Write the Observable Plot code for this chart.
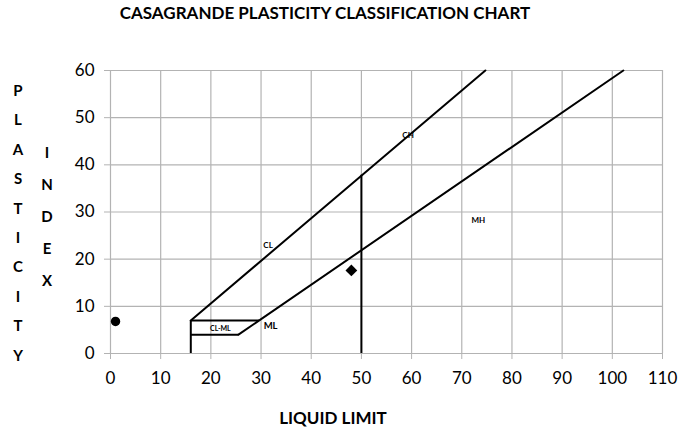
<!DOCTYPE html>
<html><head><meta charset="utf-8">
<script src="https://cdn.jsdelivr.net/npm/d3@7"></script>
<script src="https://cdn.jsdelivr.net/npm/@observablehq/plot@0.6"></script>
<style>
body{margin:0;background:#fff;font-family:Lato,"Open Sans",sans-serif;}
#wrap{position:relative;width:696px;height:432px;}
.t{position:absolute;font-weight:bold;color:#000;font-family:Lato,"Open Sans",sans-serif;line-height:20px;}
.stack{position:absolute;font-weight:bold;font-size:15px;width:18px;}
.stack span{position:absolute;left:0;width:18px;text-align:center;line-height:18px;}
</style></head>
<body><div id="wrap"></div>
<script>
const xTicks = [0,10,20,30,40,50,60,70,80,90,100,110];
const yTicks = [0,10,20,30,40,50,60];
// U-line
const uLineLL = [16, 74.7];
const uLinePI = [7, 60];
// A-line
const aLineLL = [25.5, 102.2];
const aLinePI = [4, 60];
// CL-ML box horizontals
const hLineLL0 = [16, 16];
const hLineLL1 = [29.6, 25.5];
const hLinePI = [7, 4];
// verticals
const vLineLL = [16, 50];
const vLinePItop = [7, 37.8];
// soil samples
const sampleLL = [1, 48];
const samplePI = [6.8, 17.6];
const sampleSymbol = ["circle", "diamond2"];
const sampleR = [4.7, 5.3];
// zone labels
const zoneNames = ["CH", "CL", "MH", "CL-ML", "ML"];
const zoneLL = [59.3, 31.4, 73.3, 21.9, 31.9];
const zonePI = [46.2, 23, 28.3, 5.3, 5.8];
const zoneSize = [8, 8, 8, 7, 9.5];

const pairs = (xs, ys) => xs.map((x, i) => ({x, y: ys[i]}));
const samples = sampleLL.map((x, i) => ({x, y: samplePI[i], s: sampleSymbol[i], r: sampleR[i]}));
const zones = zoneNames.map((n, i) => ({n, x: zoneLL[i], y: zonePI[i], f: zoneSize[i]}));
const hLines = hLinePI.map((y, i) => ({x1: hLineLL0[i], x2: hLineLL1[i], y}));
const vLines = vLineLL.map((x, i) => ({x, y1: 0, y2: vLinePItop[i]}));

const grid = "#b3b3b3";
const chart = Plot.plot({
  width: 696, height: 432,
  marginLeft: 110, marginRight: 34, marginTop: 70, marginBottom: 79,
  style: {fontFamily: "Lato, 'Open Sans', sans-serif", background: "#fff"},
  x: {domain: [0, 110]},
  y: {domain: [0, 60]},
  r: {type: "identity"},
  marks: [
    Plot.ruleX(xTicks, {stroke: grid, strokeWidth: 1.2}),
    Plot.ruleY(yTicks, {stroke: grid, strokeWidth: 1.2}),
    Plot.axisX({ticks: xTicks, tickSize: 6, tickPadding: 12, stroke: grid, fill: "#000", fontSize: 17, label: null}),
    Plot.axisY({ticks: yTicks, tickSize: 6, tickPadding: 10, stroke: grid, fill: "#000", fontSize: 17, label: null}),
    Plot.line(pairs(uLineLL, uLinePI), {x: "x", y: "y", stroke: "#000", strokeWidth: 2}),
    Plot.line(pairs(aLineLL, aLinePI), {x: "x", y: "y", stroke: "#000", strokeWidth: 2}),
    Plot.link(hLines, {x1: "x1", x2: "x2", y1: "y", y2: "y", stroke: "#000", strokeWidth: 2}),
    Plot.ruleX(vLines, {x: "x", y1: "y1", y2: "y2", stroke: "#000", strokeWidth: 2}),
    Plot.dot(samples, {x: "x", y: "y", symbol: "s", fill: "#000", r: "r"}),
    Plot.text(zones, {x: "x", y: "y", text: "n", fontSize: "f", fontWeight: "bold", fill: "#000"})
  ]
});
const wrap = document.getElementById("wrap");
wrap.appendChild(chart);

function addText(txt, left, top, size) {
  const d = document.createElement("div");
  d.className = "t"; d.textContent = txt;
  d.style.left = left + "px"; d.style.top = top + "px"; d.style.fontSize = size + "px";
  wrap.appendChild(d);
  return d;
}
const title = addText("CASAGRANDE PLASTICITY CLASSIFICATION CHART", 0, 3, 17);
title.style.width = "650px"; title.style.textAlign = "center";
const xl = addText("LIQUID LIMIT", 0, 408, 17);
xl.style.width = "666px"; xl.style.textAlign = "center";

function stack(word, left, top, step) {
  const d = document.createElement("div");
  d.className = "stack"; d.style.left = left + "px"; d.style.top = top + "px";
  [...word].forEach((c, i) => {
    const s = document.createElement("span");
    s.textContent = c; s.style.top = (i * step) + "px";
    d.appendChild(s);
  });
  wrap.appendChild(d);
}
stack("PLASTICITY", 9, 81, 29.4);
stack("INDEX", 38, 143, 32);
</script></body></html>
